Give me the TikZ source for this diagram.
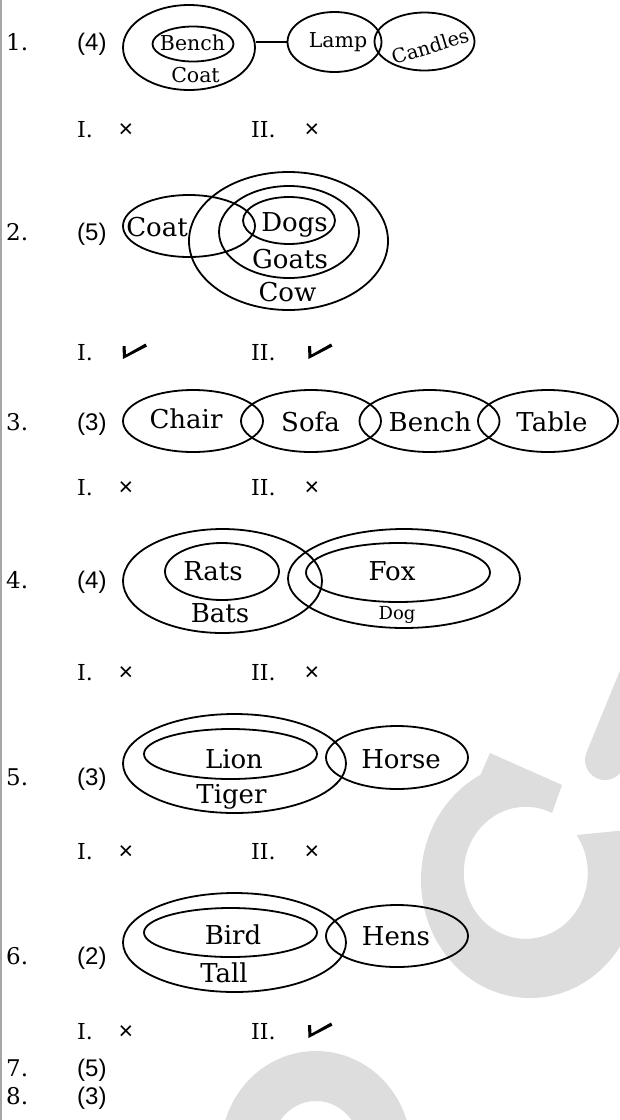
\documentclass[tikz,border=0pt]{standalone}
\usepackage{fontspec}
\usepackage{tikz}
\usetikzlibrary{shapes.geometric}
\setmainfont{DejaVu Serif}
\newfontfamily\sansf{Liberation Sans}
\definecolor{wmark}{RGB}{221,221,221}

\begin{document}
\begin{tikzpicture}[x=1pt, y=-1pt,
		oval/.style={draw, ellipse, inner sep=0pt, line width=1.8pt},
		lbl/.style={inner sep=0pt, text height=19pt, text depth=0pt, font=\fontsize{26}{28}\selectfont},
		smlbl/.style={inner sep=0pt, text height=15pt, text depth=0pt, font=\fontsize{20.5}{22}\selectfont},
		numlbl/.style={inner sep=0pt, text height=17pt, text depth=0pt, anchor=west, font=\fontsize{23}{25}\selectfont},
		romlbl/.style={inner sep=0pt, text height=16pt, text depth=0pt, anchor=west, font=\fontsize{22}{24}\selectfont},
		anslbl/.style={inner sep=0pt, text height=17pt, text depth=0pt, anchor=west, font=\sansf\fontsize{24}{26}\selectfont},
		crs/.style={inner sep=0pt, text height=17pt, text depth=0pt, font=\sansf\fontsize{25}{27}\selectfont},
		chkmark/.pic={\fill (0,0) -- (3,0) -- (3.5,8.5) -- (23,-2.5) -- (24.5,0.5) -- (0.5,13) -- cycle;}
	]
	\useasboundingbox (0,0) rectangle (620,1120);
	\fill[white] (0,0) rectangle (620,1120);
	\begin{scope}
		\clip (0,0) rectangle (620,1120);
		\begin{scope}[shift={(527,877)}, y=1pt]
			\fill[wmark] (25,64) arc[start angle=65, end angle=395, x radius=62, y radius=66]
				-- (100,47) -- (100,-62) -- (97.4,-62)
				arc[start angle=-30, end angle=-243, x radius=109, y radius=118]
				-- (-37,124) -- (35,92) -- cycle;
		\end{scope}
		\draw[wmark, line width=40pt, line cap=round] (605,760) -- (650,650);
		\begin{scope}[shift={(316,1150)}, y=1pt]
			\draw[wmark, line width=50pt] (180:70 and 74) arc[start angle=180, end angle=0, x radius=70, y radius=74];
		\end{scope}
	\end{scope}
	\draw[black!35, line width=1.5pt] (1,0) -- (1,1120);

	\foreach \y/\n/\c [count=\k] in {42/1/4, 232/2/5, 422/3/3, 580/4/4, 777/5/3, 956/6/2, 1068/7/5, 1096/8/3} {
		\node[numlbl] (num\k) at (6,\y) {\n.};
		\node[anslbl] (ans\k) at (77,\y) {(\c)};
	}
	\foreach \y [count=\k] in {129,352,487,672,851,1031} {
		\node[romlbl] (one\k) at (77,\y) {I.};
		\node[romlbl] (two\k) at (251,\y) {II.};
	}
	\foreach \x/\y [count=\k] in {126/129, 312/129, 126/487, 312/487, 126/672, 312/672, 126/851, 312/851, 126/1031}
		\node[crs] (x\k) at (\x,\y) {×};
	\foreach \x/\y in {122.5/346, 308/346, 308/1025}
		\pic at (\x,\y) {chkmark};

	\node[oval, minimum width=132pt, minimum height=85pt] (coatA) at (189,47.5) {};
	\node[oval, minimum width=81pt, minimum height=35pt] (benchA) at (193,44) {};
	\node[oval, minimum width=94pt, minimum height=60pt] (lampA) at (334.5,42) {};
	\node[oval, minimum width=100pt, minimum height=58pt] (candlesA) at (424.5,41.5) {};
	\draw[line width=1.8pt] (coatA.east |- lampA.west) -- (lampA.west);
	\node[smlbl] (benchAt) at (192.5,43) {Bench};
	\node[smlbl] (coatAt) at (195.5,75) {Coat};
	\node[smlbl] (lampAt) at (338,40) {Lamp};
	\node[smlbl, rotate=17, font=\fontsize{19.5}{21}\selectfont] (candlesAt) at (430,46) {Candles};

	\node[oval, minimum width=132pt, minimum height=62pt] (coatB) at (189,226) {};
	\node[oval, minimum width=199pt, minimum height=138pt] (cowB) at (288.5,241) {};
	\node[oval, minimum width=140pt, minimum height=92pt] (goatsB) at (289,232) {};
	\node[oval, minimum width=92pt, minimum height=47pt] (dogsB) at (289,220.5) {};
	\node[lbl] (coatBt) at (157,227) {Coat};
	\node[lbl] (dogsBt) at (294.5,222) {Dogs};
	\node[lbl] (goatsBt) at (290,259) {Goats};
	\node[lbl] (cowBt) at (287.5,292) {Cow};

	\foreach \x [count=\k] in {193, 311, 429.5, 548}
		\node[oval, minimum width=140pt, minimum height=62pt] (seat\k) at (\x,421) {};
	\node[lbl] (chairCt) at (186,419) {Chair};
	\node[lbl] (sofaCt) at (310.5,422) {Sofa};
	\node[lbl] (benchCt) at (430,422) {Bench};
	\node[lbl] (tableCt) at (552,422) {Table};

	\node[oval, minimum width=199pt, minimum height=104pt] (batsD) at (222.5,581) {};
	\node[oval, minimum width=114pt, minimum height=57pt] (ratsD) at (222,571.5) {};
	\node[oval, minimum width=232pt, minimum height=99pt] (dogD) at (404,578.5) {};
	\node[oval, minimum width=184pt, minimum height=59pt] (foxD) at (398,572.5) {};
	\node[lbl] (ratsDt) at (213,571) {Rats};
	\node[lbl] (batsDt) at (220,613) {Bats};
	\node[lbl] (foxDt) at (392,571) {Fox};
	\node[lbl, text height=13pt, font=\fontsize{18}{20}\selectfont] (dogDt) at (397,613) {Dog};

	\node[oval, minimum width=223pt, minimum height=99pt] (tigerE) at (234.5,763.5) {};
	\node[oval, minimum width=173pt, minimum height=50pt] (lionE) at (230.5,754) {};
	\node[oval, minimum width=142pt, minimum height=63pt] (horseE) at (397,757.5) {};
	\node[lbl] (lionEt) at (234,759) {Lion};
	\node[lbl] (tigerEt) at (231.5,794) {Tiger};
	\node[lbl] (horseEt) at (401,759) {Horse};

	\node[oval, minimum width=223pt, minimum height=99pt] (tallF) at (234.5,942.5) {};
	\node[oval, minimum width=173pt, minimum height=49pt] (birdF) at (230.5,932.5) {};
	\node[oval, minimum width=142pt, minimum height=62pt] (hensF) at (397,936) {};
	\node[lbl] (birdFt) at (233,935) {Bird};
	\node[lbl] (tallFt) at (224,973) {Tall};
	\node[lbl] (hensFt) at (396,936) {Hens};
\end{tikzpicture}
\end{document}
